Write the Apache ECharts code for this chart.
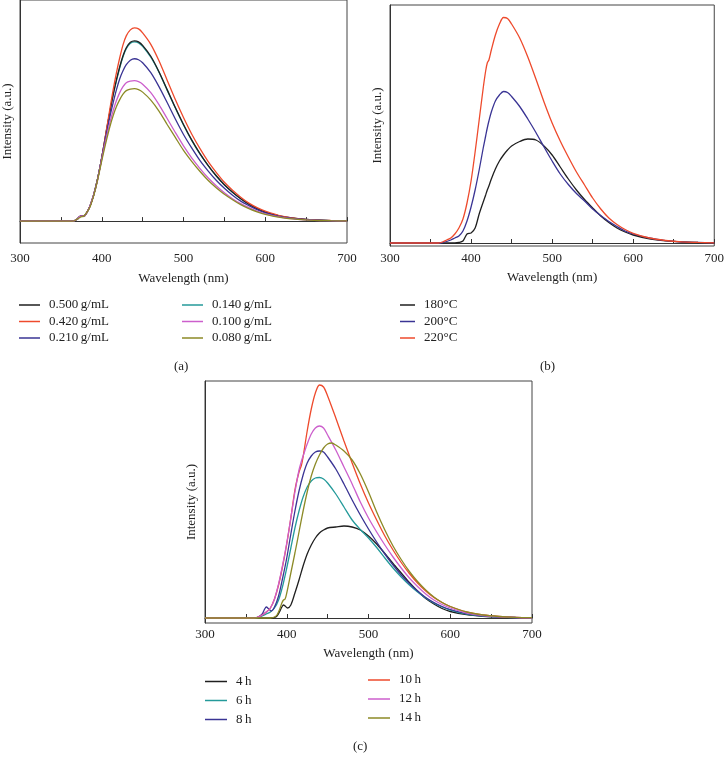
<!DOCTYPE html>
<html>
<head>
<meta charset="utf-8">
<script src="https://cdn.jsdelivr.net/npm/echarts@6/dist/echarts.min.js"></script>
<style>
  html, body { margin: 0; padding: 0; background: #fff; }
  #chart { width: 727px; height: 765px; }
</style>
</head>
<body>
<div id="chart"></div>
<script>
// Panel (a): concentration series, shared wavelength grid (nm)
const wavelengthA = [300, 360, 365, 370, 374, 378, 382, 386, 390, 394, 398, 402, 406, 410, 414, 418, 422, 426, 430, 435, 440, 445, 450, 460, 470, 480, 490, 500, 510, 520, 530, 540, 550, 560, 570, 580, 590, 600, 620, 640, 660, 680, 700];
const conc0500 = [0, 0, 0, 2, 5, 5, 9, 16, 26, 39, 55, 73, 92, 110, 127, 142, 155, 166, 174, 179.5, 181, 180, 176.5, 165.5, 150, 132, 114, 97, 81.5, 68, 56, 45.5, 36.5, 29, 22.5, 17, 12.5, 9, 4.7, 2.4, 1.1, 0.5, 0.3];
const conc0420 = [0, 0, 0, 2, 5, 5, 9, 16, 26, 39, 55, 73, 93, 113, 132, 149, 164, 177, 186, 192, 194, 193, 189, 177.5, 161, 141.5, 122, 104, 87.5, 73, 60, 49, 39, 31, 24, 18, 13.5, 10, 5, 2.5, 1.2, 0.6, 0.3];
const conc0210 = [0, 0, 0, 2, 5, 5, 9, 16, 26, 39, 55, 72, 89, 105, 119, 132, 143, 151, 157, 161.5, 163, 162, 159, 149, 135, 119, 102.5, 87, 73.5, 61, 50.5, 41, 33, 26, 20, 15.5, 11.5, 8.3, 4.2, 2.1, 1, 0.5, 0.2];
const conc0140 = [0, 0, 0, 2, 5, 5, 9, 16, 26, 39, 55, 73, 92, 110, 127, 141, 154, 165, 173, 178.5, 180, 179, 175.5, 164.5, 149.5, 131.5, 113.5, 96.5, 81, 67.5, 56, 45.5, 36.5, 29, 22.5, 17, 12.5, 9, 4.7, 2.3, 1.1, 0.5, 0.3];
const conc0100 = [0, 0, 0, 2, 5, 5, 9, 16, 26, 38, 54, 70, 85, 99, 111, 121, 129, 135, 139, 140.5, 141, 140, 137.5, 129, 117, 103, 89, 75.5, 63.5, 53, 43.5, 35.5, 28.5, 22.5, 17.5, 13.5, 10, 7.2, 3.7, 1.8, 0.8, 0.4, 0.2];
const conc0080 = [0, 0, 0, 2, 4, 5, 9, 15, 25, 38, 53, 68, 82, 95, 106, 115, 122, 127.5, 131, 132.5, 133, 132, 129.5, 121.5, 110.5, 97, 84, 71, 60, 50, 41, 33.5, 27, 21.5, 16.5, 12.5, 9.3, 6.8, 3.5, 1.7, 0.8, 0.4, 0.2];

// Panel (b): temperature series
const wavelengthB = [300, 360, 365, 370, 375, 380, 385, 390, 395, 400, 405, 410, 415, 418, 420, 422, 425, 430, 435, 440, 445, 450, 460, 470, 480, 490, 500, 510, 520, 530, 540, 550, 560, 570, 580, 590, 600, 620, 640, 660, 680, 700];
const temp180 = [0, 0, 0, 0, 0, 0, 0.5, 2, 9, 10, 15, 29, 41, 48, 53, 57, 64, 74, 82, 88, 93, 97, 101.5, 104, 103, 97, 88, 76, 64, 53, 43.5, 35, 27, 20.5, 15, 11, 8, 4.2, 2.1, 1, 0.5, 0.2];
const temp200 = [0, 0, 0.5, 1.5, 3, 5, 7, 12, 22, 36, 53, 73, 95, 107, 115, 122, 131, 142, 148, 151.5, 150.5, 146.5, 136.5, 124, 110.5, 96, 82, 69, 58.5, 49.5, 42, 34, 27.5, 21.5, 16.5, 12, 9, 5, 2.4, 1.2, 0.6, 0.2];
const temp220 = [0, 0, 1, 3, 5, 9, 15, 24, 40, 62, 91, 123, 155, 172, 180, 183, 193, 208, 219, 225.5, 224.5, 219, 205, 186, 164, 141, 120, 102, 86, 71, 58, 45, 34, 25, 18.5, 13.5, 9.7, 5, 2.5, 1.1, 0.6, 0.2];

// Panel (c): reaction time series, [wavelength, intensity]
const time4h = [[300, 0], [370, 0], [380, 0], [385, 0.5], [388, 2], [391, 6], [394, 11], [396, 13], [398, 12], [401, 10], [405, 13], [410, 25], [415, 38], [420, 52], [425, 64], [430, 73], [435, 80], [440, 85], [445, 88], [450, 90], [460, 91], [470, 92], [480, 91], [490, 88], [500, 82], [510, 74], [520, 64.5], [530, 54.5], [540, 45], [550, 35.5], [560, 27], [570, 19.5], [580, 14], [590, 9.5], [600, 6.5], [620, 3.3], [640, 1.7], [660, 0.8], [680, 0.4], [700, 0.2]];
const time6h = [[300, 0], [360, 0], [365, 0.5], [370, 2], [375, 4], [380, 6], [385, 10], [390, 18], [395, 32], [400, 50], [405, 70], [410, 90], [415, 107], [420, 121], [425, 131], [430, 137], [435, 140], [440, 140.5], [445, 139], [450, 135], [460, 124], [470, 111], [480, 98], [490, 88.5], [500, 80], [510, 70.5], [520, 60], [530, 50], [540, 41], [550, 33], [560, 26], [570, 20], [580, 15], [590, 11], [600, 8], [620, 4], [640, 2], [660, 1], [680, 0.5], [700, 0.2]];
const time8h = [[300, 0], [360, 0], [365, 1], [370, 4], [373, 9], [375, 11], [378, 9], [381, 7], [385, 11], [390, 22], [395, 40], [400, 60], [405, 84], [410, 107], [415, 127], [420, 143], [425, 155], [430, 162], [435, 166], [440, 167], [445, 166], [450, 161], [460, 149], [470, 134], [480, 118], [490, 103], [500, 89], [510, 76], [520, 64], [530, 53], [540, 43], [550, 34.5], [560, 27], [570, 20.5], [580, 15.5], [590, 11.5], [600, 8.5], [620, 4.3], [640, 2.1], [660, 1], [680, 0.5], [700, 0.2]];
const time10h = [[300, 0], [360, 0], [365, 1], [370, 3], [375, 6], [380, 10], [385, 19], [390, 33], [395, 52], [400, 74], [405, 100], [410, 128], [415, 146], [418, 153], [420, 161], [425, 187], [430, 209], [435, 225], [440, 233], [445, 231], [450, 222], [460, 200], [470, 177], [480, 155], [490, 134], [500, 115], [510, 98], [520, 82], [530, 68], [540, 55.5], [550, 44.5], [560, 35], [570, 27], [580, 20.5], [590, 15.5], [600, 11.5], [620, 6], [640, 3], [660, 1.5], [680, 0.7], [700, 0.3]];
const time12h = [[300, 0], [360, 0], [365, 1], [370, 3], [375, 6], [380, 10], [385, 19], [390, 34], [395, 53], [400, 75], [405, 100], [410, 126], [415, 148], [418, 157], [420, 162], [425, 174], [430, 184], [435, 190], [440, 192], [445, 190], [450, 183], [460, 168], [470, 151], [480, 134], [490, 116], [500, 100], [510, 86], [520, 73], [530, 61], [540, 50], [550, 40], [560, 31.5], [570, 24], [580, 18], [590, 13.5], [600, 10], [620, 5], [640, 2.5], [660, 1.2], [680, 0.5], [700, 0.2]];
const time14h = [[300, 0], [380, 0], [385, 1], [388, 3], [391, 8], [394, 15], [396, 18], [398, 19], [400, 25], [405, 45], [410, 65], [415, 86], [420, 107], [425, 126], [430, 142], [435, 154], [440, 163], [445, 170], [450, 174], [455, 175], [460, 173], [470, 167], [480, 158], [490, 144], [500, 126], [510, 106], [520, 88], [530, 72], [540, 58.5], [550, 46.5], [560, 36.5], [570, 28], [580, 21], [590, 15.5], [600, 11.5], [620, 6], [640, 3], [660, 1.5], [680, 0.7], [700, 0.3]];

const xTicks = [300, 400, 500, 600, 700];

const FONT = '"Liberation Serif", "DejaVu Serif", serif';
const FONT_SIZE = 13;
const COLORS = {
    black: '#1f1f1f',
    red: '#ee4a2c',
    blue: '#3a3494',
    teal: '#249a9a',
    magenta: '#cc5fcc',
    olive: '#8c8a26'
};

// Build x-axis config for one panel
function makeXAxis(gridIndex, nameGap, labelMargin) {
    return {
        type: 'value',
        gridIndex: gridIndex,
        min: xTicks[0],
        max: xTicks[xTicks.length - 1],
        interval: 100,
        axisLine: { show: true, lineStyle: { color: '#333', width: 1 } },
        axisTick: { show: true, inside: true, length: 4, lineStyle: { color: '#333' } },
        minorTick: { show: true, splitNumber: 2, length: 4, lineStyle: { color: '#333' } },
        splitLine: { show: false },
        axisLabel: { fontFamily: FONT, fontSize: FONT_SIZE, color: '#222', margin: labelMargin },
        name: 'Wavelength (nm)',
        nameLocation: 'middle',
        nameGap: nameGap,
        nameTextStyle: { fontFamily: FONT, fontSize: FONT_SIZE, color: '#222' }
    };
}

function makeYAxis(gridIndex, min, max, nameGap) {
    return {
        type: 'value',
        gridIndex: gridIndex,
        min: min,
        max: max,
        axisLine: { show: true, lineStyle: { color: '#333', width: 1 } },
        axisTick: { show: false },
        axisLabel: { show: false },
        splitLine: { show: false },
        name: 'Intensity (a.u.)',
        nameLocation: 'middle',
        nameGap: nameGap,
        nameRotate: 90,
        nameTextStyle: { fontFamily: FONT, fontSize: FONT_SIZE, color: '#222' }
    };
}

function makeSeries(name, axisIndex, data, color) {
    return {
        name: name,
        type: 'line',
        xAxisIndex: axisIndex,
        yAxisIndex: axisIndex,
        data: data,
        symbol: 'none',
        smooth: 0.3,
        lineStyle: { width: 1.3, color: color },
        itemStyle: { color: color },
        animation: false
    };
}

function makeLegend(names, left, top, itemWidth, itemGap) {
    return {
        data: names,
        orient: 'vertical',
        left: left,
        top: top,
        padding: 0,
        icon: 'rect',
        itemWidth: itemWidth,
        itemHeight: 1.5,
        itemGap: itemGap,
        selectedMode: false,
        textStyle: { fontFamily: FONT, fontSize: FONT_SIZE, color: '#222', padding: [0, 0, 0, 4] }
    };
}

const pairUp = (xs, ys) => xs.map((x, i) => [x, ys[i]]);

const gridBox = { show: true, borderColor: '#444', borderWidth: 1, backgroundColor: 'transparent' };
const captionFont = FONT_SIZE + 'px ' + FONT;

const option = {
    backgroundColor: '#fff',
    animation: false,
    grid: [
        Object.assign({ left: 20, top: -1, width: 327, height: 244 }, gridBox),
        Object.assign({ left: 390, top: 5, width: 327, height: 241 }, gridBox),
        Object.assign({ left: 205, top: 381, width: 327, height: 242 }, gridBox)
    ],
    xAxis: [makeXAxis(0, 29, 9), makeXAxis(1, 25, 6), makeXAxis(2, 24, 5)],
    yAxis: [makeYAxis(0, -22, 222, 5.5), makeYAxis(1, -3, 238, 5.5), makeYAxis(2, -5, 237, 6.5)],
    legend: [
        makeLegend(['0.500\u2009g/mL', '0.420\u2009g/mL', '0.210\u2009g/mL'], 19, 298.5, 21, 3.5),
        makeLegend(['0.140\u2009g/mL', '0.100\u2009g/mL', '0.080\u2009g/mL'], 182, 298.5, 21, 3.5),
        makeLegend(['180°C', '200°C', '220°C'], 400, 298.5, 15, 3.5),
        makeLegend(['4\u2009h', '6\u2009h', '8\u2009h'], 205, 675, 22, 6),
        makeLegend(['10\u2009h', '12\u2009h', '14\u2009h'], 368, 673.5, 22, 6)
    ],
    graphic: [
        { type: 'text', left: 174, top: 360, style: { text: '(a)', font: captionFont, fill: '#222' } },
        { type: 'text', left: 540, top: 360, style: { text: '(b)', font: captionFont, fill: '#222' } },
        { type: 'text', left: 353, top: 740, style: { text: '(c)', font: captionFont, fill: '#222' } }
    ],
    series: [
        makeSeries('0.140\u2009g/mL', 0, pairUp(wavelengthA, conc0140), COLORS.teal),
        makeSeries('0.500\u2009g/mL', 0, pairUp(wavelengthA, conc0500), COLORS.black),
        makeSeries('0.420\u2009g/mL', 0, pairUp(wavelengthA, conc0420), COLORS.red),
        makeSeries('0.210\u2009g/mL', 0, pairUp(wavelengthA, conc0210), COLORS.blue),
        makeSeries('0.100\u2009g/mL', 0, pairUp(wavelengthA, conc0100), COLORS.magenta),
        makeSeries('0.080\u2009g/mL', 0, pairUp(wavelengthA, conc0080), COLORS.olive),

        makeSeries('180°C', 1, pairUp(wavelengthB, temp180), COLORS.black),
        makeSeries('200°C', 1, pairUp(wavelengthB, temp200), COLORS.blue),
        makeSeries('220°C', 1, pairUp(wavelengthB, temp220), COLORS.red),

        makeSeries('4\u2009h', 2, time4h, COLORS.black),
        makeSeries('6\u2009h', 2, time6h, COLORS.teal),
        makeSeries('8\u2009h', 2, time8h, COLORS.blue),
        makeSeries('10\u2009h', 2, time10h, COLORS.red),
        makeSeries('12\u2009h', 2, time12h, COLORS.magenta),
        makeSeries('14\u2009h', 2, time14h, COLORS.olive)
    ]
};

const chartInstance = echarts.init(document.getElementById('chart'), null, { renderer: 'canvas' });
chartInstance.setOption(option);
</script>
</body>
</html>
